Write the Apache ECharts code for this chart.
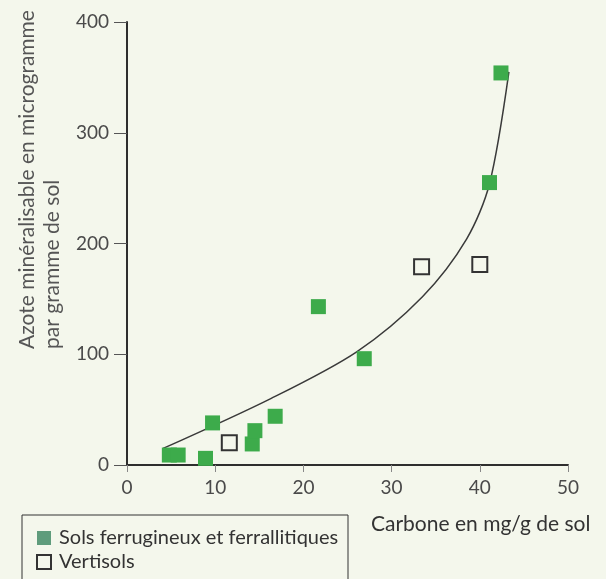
<!DOCTYPE html>
<html>
<head>
<meta charset="utf-8">
<script src="https://cdn.jsdelivr.net/npm/echarts@6/dist/echarts.min.js"></script>
<style>
  html, body { margin: 0; padding: 0; background: #f4f7ec; }
  #chart { width: 606px; height: 579px; }
</style>
</head>
<body>
<div id="chart"></div>
<script>
// sols ferrugineux et ferrallitiques (carres verts)
const ferruX = [4.8, 5.8, 8.9, 9.7, 14.2, 14.5, 16.8, 21.7, 26.9, 41.1, 42.4]
const ferruY = [9, 9, 6, 38, 19, 31, 44, 143, 96, 255, 354]
// vertisols (carres vides)
const vertiX = [11.6, 33.4, 40.0]
const vertiY = [20, 179, 181]
// courbe d'ajustement
const curveX = [4.1, 16.3, 26, 33.5, 38.5, 41.1, 43.3]
const curveY = [15, 60, 102, 152, 204, 254, 355]

const xTicks = [0, 10, 20, 30, 40, 50]
const yTicks = [0, 100, 200, 300, 400]

const zip = (xs, ys) => xs.map((x, i) => [x, ys[i]])

const font = 'Lato, "Open Sans", sans-serif'
const chart = echarts.init(document.getElementById('chart'))

chart.setOption({
  backgroundColor: '#f4f7ec',
  animation: false,
  grid: { left: 127, right: 38, top: 22, bottom: 114 },
  xAxis: {
    type: 'value',
    min: xTicks[0],
    max: xTicks[xTicks.length - 1],
    interval: 10,
    splitLine: { show: false },
    axisLine: { lineStyle: { color: '#2e2e2e', width: 2 } },
    axisTick: { length: 7, lineStyle: { color: '#888', width: 1 } },
    axisLabel: { color: '#4a4a4a', fontSize: 19, fontFamily: font, margin: 13 }
  },
  yAxis: {
    type: 'value',
    min: yTicks[0],
    max: yTicks[yTicks.length - 1],
    interval: 100,
    splitLine: { show: false },
    axisLine: { show: true, lineStyle: { color: '#2e2e2e', width: 2 } },
    axisTick: { show: true, length: 13, lineStyle: { color: '#555', width: 1 } },
    axisLabel: { color: '#4a4a4a', fontSize: 19, fontFamily: font, margin: 18 }
  },
  legend: {
    orient: 'vertical',
    left: 36,
    top: 528,
    padding: 0,
    itemWidth: 14,
    itemHeight: 14,
    itemGap: 4,
    textStyle: { color: '#333', fontSize: 20, lineHeight: 20, fontFamily: font, padding: [0, 0, 0, 3] },
    data: [
      { name: 'Sols ferrugineux et ferrallitiques', icon: 'rect', itemStyle: { color: '#5f9c7c' } },
      { name: 'Vertisols', icon: 'rect' }
    ]
  },
  graphic: [
    {
      type: 'polyline',
      shape: { points: [[22, 590], [22, 515], [348, 515], [348, 590]] },
      style: { stroke: '#333', lineWidth: 1, fill: null }
    },
    {
      type: 'text',
      x: 27, y: 349,
      rotation: Math.PI / 2,
      style: { text: 'Azote minéralisable en microgramme', fill: '#555', font: '21px ' + font, textAlign: 'left', textVerticalAlign: 'middle' }
    },
    {
      type: 'text',
      x: 52, y: 349,
      rotation: Math.PI / 2,
      style: { text: 'par gramme de sol', fill: '#555', font: '21px ' + font, textAlign: 'left', textVerticalAlign: 'middle' }
    },
    {
      type: 'text',
      x: 371, y: 524,
      style: { text: 'Carbone en mg/g de sol', fill: '#333', font: '21px ' + font, textAlign: 'left', textVerticalAlign: 'middle' }
    }
  ],
  series: [
    {
      name: 'courbe',
      type: 'line',
      data: zip(curveX, curveY),
      smooth: 0.3,
      showSymbol: false,
      lineStyle: { color: '#3a3a3a', width: 1.5 },
      z: 1
    },
    {
      name: 'Sols ferrugineux et ferrallitiques',
      type: 'scatter',
      symbol: 'rect',
      symbolSize: 15,
      data: zip(ferruX, ferruY),
      itemStyle: { color: '#3dab4b', opacity: 1 },
      z: 3
    },
    {
      name: 'Vertisols',
      type: 'scatter',
      symbol: 'rect',
      symbolSize: 15,
      data: zip(vertiX, vertiY),
      itemStyle: { color: 'rgba(0,0,0,0)', borderColor: '#333', borderWidth: 2, opacity: 1 },
      z: 3
    }
  ]
})
</script>
</body>
</html>
